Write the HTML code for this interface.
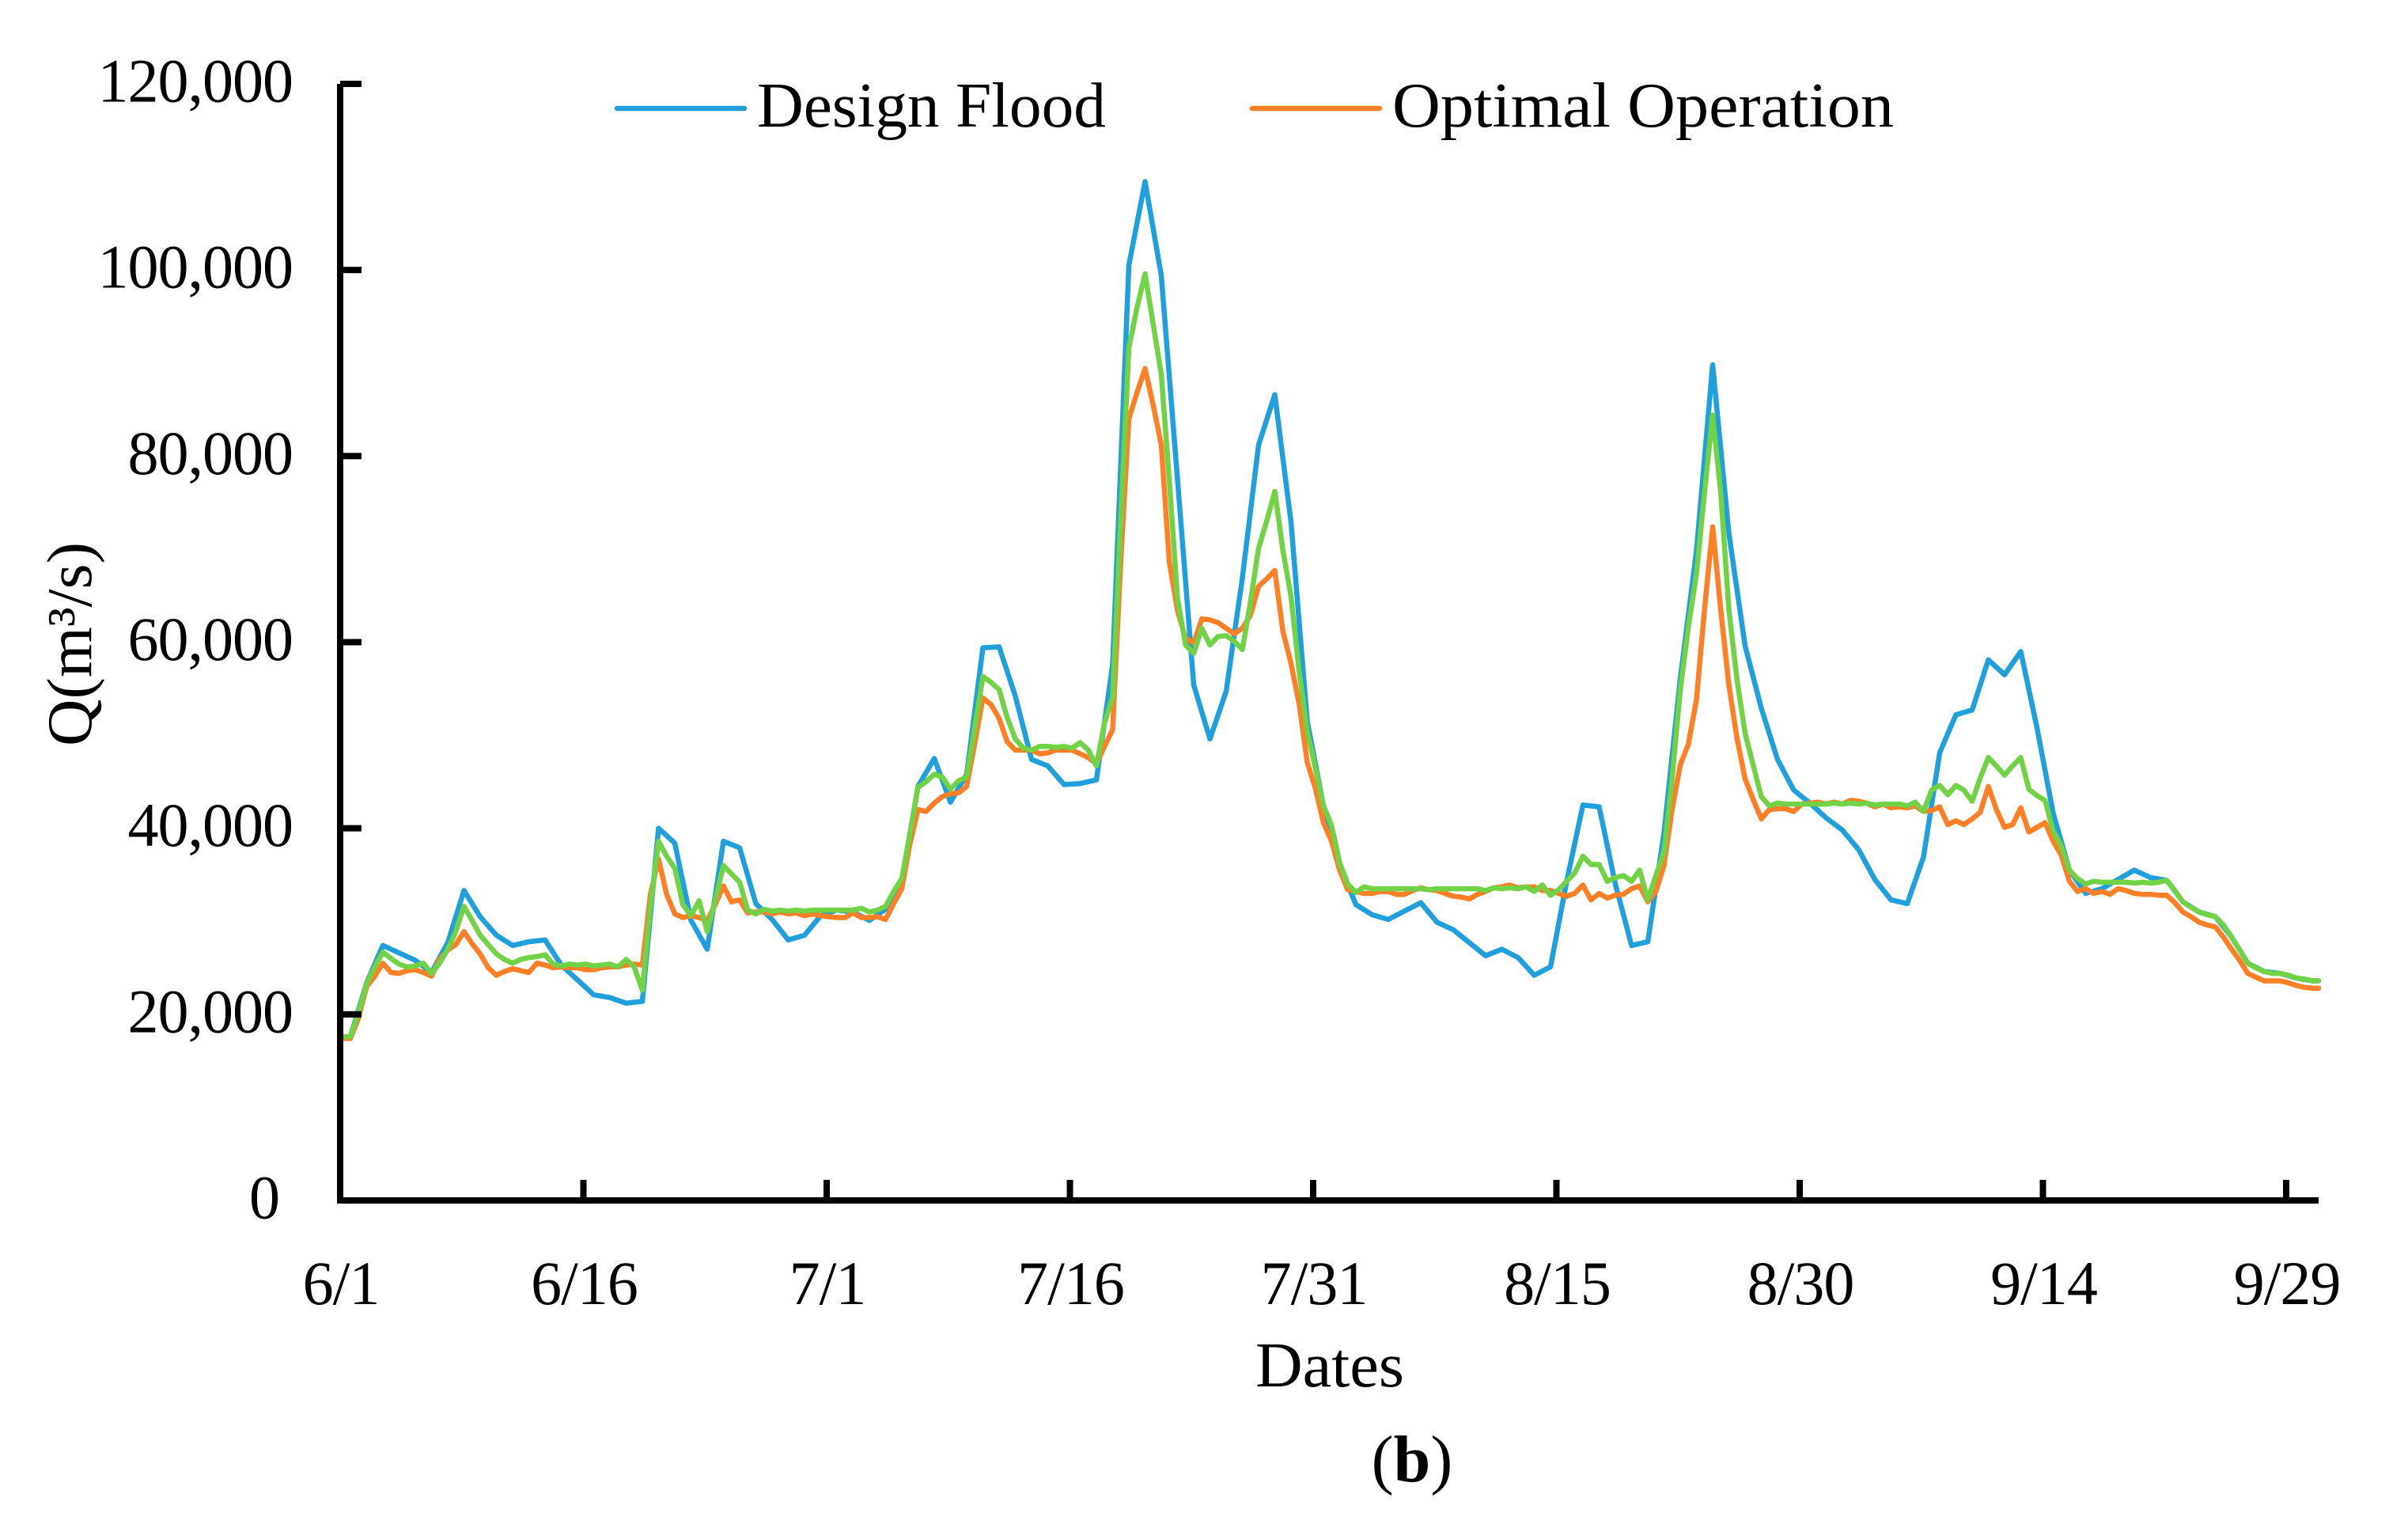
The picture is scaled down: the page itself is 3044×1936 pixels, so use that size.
<!DOCTYPE html>
<html lang="en">
<head>
<meta charset="utf-8">
<title>Flood hydrograph (b)</title>
<style>
html,body{margin:0;padding:0;background:#fff;}
svg{display:block;}
text{font-family:"Liberation Serif",serif;fill:#000;}
.tick{font-size:78px;letter-spacing:-1px;}
.title{font-size:81px;}
</style>
</head>
<body>
<svg id="chart" xmlns="http://www.w3.org/2000/svg" width="3044" height="1936" viewBox="0 0 3044 1936">
  <rect x="0" y="0" width="3044" height="1936" fill="#fff"/>
  <g id="series"></g>
  <g id="axes"></g>
  <g>
    <line x1="780" y1="137" x2="941" y2="137" stroke="#1F9FDC" stroke-width="6.5" stroke-linecap="round"/>
    <text class="title" x="957" y="160" textLength="441" lengthAdjust="spacingAndGlyphs">Design Flood</text>
    <line x1="1583" y1="137" x2="1744" y2="137" stroke="#FF7F27" stroke-width="6.5" stroke-linecap="round"/>
    <text class="title" x="1760" y="160" textLength="634" lengthAdjust="spacingAndGlyphs">Optimal Operation</text>
  </g>
  <text class="title" x="115" y="814" text-anchor="middle" textLength="258" lengthAdjust="spacingAndGlyphs" transform="rotate(-90 115 814)">Q(m³/s)</text>
  <text class="title" x="1587" y="1752" textLength="188" lengthAdjust="spacingAndGlyphs">Dates</text>
  <text x="1785" y="1872" text-anchor="middle" font-size="84">(<tspan font-weight="bold">b</tspan>)</text>
</svg>
<script>
const yTickValues = [0, 20000, 40000, 60000, 80000, 100000, 120000];
const xTickLabels = ["6/1", "6/16", "7/1", "7/16", "7/31", "8/15", "8/30", "9/14", "9/29"];
const xTickDays = [0, 15, 30, 45, 60, 75, 90, 105, 120];

// Discharge in thousands of m³/s, one value per day
const designFlood = [
17.6,23.4,27.4,26.6,25.8,24.5,27.7,33.3,30.5,28.5,
27.4,27.8,28.0,25.3,23.7,22.1,21.8,21.2,21.4,40.0,
38.4,30.1,27.0,38.6,37.9,31.9,30.2,28.0,28.5,30.6,
31.2,31.0,30.1,31.3,34.3,44.5,47.5,42.8,45.8,59.4,
59.5,54.2,47.4,46.7,44.7,44.8,45.2,57.6,100.5,109.5,
99.4,77.5,55.4,49.6,54.7,66.9,81.2,86.6,72.9,51.5,
42.4,36.0,31.8,30.7,30.2,31.1,32.0,29.9,29.1,27.7,
26.3,27.0,26.1,24.2,25.1,34.3,42.5,42.3,34.0,27.4,
27.8,39.5,56.0,69.8,89.8,71.7,59.6,52.9,47.4,44.1,
42.7,41.1,39.8,37.7,34.5,32.3,31.9,36.9,48.1,52.2,
52.7,58.1,56.5,59.0,50.8,41.6,35.5,33.0,33.5,34.5,
35.5,34.7,34.4,32.1,31.0,30.5,28.3,25.5,24.6,24.4,
23.9,23.6];

// Discharge in thousands of m³/s, two values per day
const optimalOperation = [
17.4,19.6,23.0,24.1,25.5,24.5,24.4,24.7,24.8,24.5,
24.1,25.9,26.9,27.5,28.9,27.6,26.5,25.0,24.2,24.6,
24.9,24.7,24.5,25.5,25.3,25.0,25.1,25.0,25.0,24.8,
24.8,25.0,25.1,25.1,25.3,25.4,25.3,32.9,36.7,32.9,
30.8,30.4,30.6,30.4,30.1,31.8,33.8,32.1,32.3,30.9,
31.0,31.0,30.8,31.0,30.8,30.9,30.6,30.8,30.6,30.5,
30.4,30.4,30.9,30.4,30.4,30.5,30.2,31.9,33.5,38.3,
42.0,41.8,42.7,43.4,43.7,43.8,44.5,49.1,54.0,53.3,
51.8,49.3,48.4,48.4,48.4,48.0,48.1,48.4,48.4,48.4,
48.0,47.6,46.9,48.8,50.6,68.6,84.0,86.8,89.4,85.5,
81.2,68.6,63.4,60.4,59.9,62.5,62.4,62.1,61.5,60.9,
61.5,62.9,66.0,66.8,67.7,61.2,57.7,53.4,47.1,44.3,
40.6,38.6,35.5,33.4,33.2,33.0,33.0,33.2,33.2,32.9,
32.9,33.3,33.6,33.4,33.3,33.0,32.7,32.6,32.4,32.9,
33.2,33.6,33.7,33.9,33.6,33.7,33.7,33.3,33.3,33.0,
32.7,33.0,33.9,32.3,33.0,32.5,32.8,32.9,33.5,33.8,
32.1,33.2,36.0,42.0,46.8,49.0,53.8,63.5,72.4,63.5,
55.4,49.7,45.3,43.1,41.0,42.0,42.1,42.1,41.8,42.6,
42.7,42.8,42.6,42.8,42.6,43.0,42.9,42.7,42.3,42.6,
42.2,42.3,42.2,42.4,41.8,41.9,42.3,40.4,40.8,40.4,
41.0,41.7,44.5,42.0,40.1,40.4,42.2,39.6,40.1,40.6,
38.6,37.1,34.3,33.2,33.5,33.0,33.2,32.9,33.5,33.3,
33.0,32.9,32.9,32.8,32.8,32.0,31.0,30.5,29.9,29.6,
29.4,28.3,27.0,25.8,24.4,24.0,23.6,23.6,23.6,23.4,
23.1,22.9,22.8];

// Discharge in thousands of m³/s, two values per day
const thirdScenario = [
17.6,20.2,23.3,25.1,26.7,26.0,25.4,25.1,25.2,25.5,
24.4,25.5,27.0,28.9,31.6,30.1,28.5,27.5,26.5,25.9,
25.5,25.9,26.1,26.2,26.4,25.4,25.2,25.4,25.3,25.4,
25.2,25.3,25.4,25.1,25.9,25.1,22.6,31.5,38.6,37.0,
35.7,31.8,30.6,32.2,28.9,32.3,36.0,35.1,34.2,31.2,
30.8,31.3,31.1,31.2,31.1,31.2,31.1,31.2,31.2,31.2,
31.2,31.2,31.2,31.4,31.0,31.2,31.6,33.2,34.6,39.4,
44.4,45.0,45.8,45.5,44.2,45.1,45.5,50.8,56.3,55.7,
54.9,51.9,49.6,48.6,48.4,48.8,48.8,48.7,48.8,48.6,
49.2,48.4,46.7,51.3,54.1,73.0,91.6,95.9,99.6,94.2,
88.8,77.3,64.7,59.7,58.8,61.5,59.7,60.6,60.7,60.1,
59.2,64.3,70.1,73.0,76.2,69.9,64.9,56.9,50.4,46.5,
42.4,40.3,36.3,34.0,33.1,33.7,33.5,33.5,33.5,33.5,
33.5,33.5,33.5,33.4,33.5,33.5,33.5,33.5,33.5,33.5,
33.3,33.6,33.5,33.6,33.5,33.7,33.2,33.9,32.8,33.4,
34.3,35.2,37.0,36.1,36.1,34.3,34.7,34.9,34.3,35.5,
32.3,34.9,37.5,45.3,54.8,61.6,67.3,76.1,84.4,76.1,
63.5,56.0,50.2,46.8,43.4,42.4,42.7,42.6,42.6,42.6,
42.6,42.6,42.6,42.7,42.6,42.7,42.6,42.7,42.5,42.6,
42.6,42.6,42.4,42.8,41.8,44.1,44.6,43.6,44.6,44.1,
42.9,45.4,47.6,46.7,45.7,46.7,47.6,44.2,43.5,43.0,
39.7,38.1,35.5,34.6,34.0,34.3,34.2,34.2,34.2,34.2,
34.1,34.2,34.1,34.2,34.4,33.3,32.1,31.5,31.0,30.7,
30.5,29.6,28.3,26.9,25.5,25.0,24.6,24.4,24.4,24.2,
23.9,23.8,23.6];

const NS = "http://www.w3.org/2000/svg";
const UNIT = 1000;
const FIRST_SAMPLE_DAY = 0.634;
const LAST_DAY = 122;
function xScale(day) { return 430 + 20.5 * day; }
function yScale(value) { return 1517 - value * (1411 / 120000); }

function linePath(values, samplesPerDay) {
  let d = "M" + xScale(0) + " " + yScale(values[0] * UNIT).toFixed(1);
  values.forEach(function (v, i) {
    const day = FIRST_SAMPLE_DAY + i / samplesPerDay;
    d += "L" + xScale(day).toFixed(1) + " " + yScale(v * UNIT).toFixed(1);
  });
  d += "L" + xScale(LAST_DAY) + " " + yScale(values[values.length - 1] * UNIT).toFixed(1);
  return d;
}

const seriesGroup = document.getElementById("series");
function addSeries(values, samplesPerDay, color) {
  const p = document.createElementNS(NS, "path");
  p.setAttribute("d", linePath(values, samplesPerDay));
  p.setAttribute("fill", "none");
  p.setAttribute("stroke", color);
  p.setAttribute("stroke-width", "6.5");
  p.setAttribute("stroke-linejoin", "round");
  p.setAttribute("stroke-linecap", "round");
  seriesGroup.appendChild(p);
  return p;
}
const designLine = addSeries(designFlood, 1, "#1F9FDC");


const optimalLine = addSeries(optimalOperation, 2, "#FF7F27");


const thirdLine = addSeries(thirdScenario, 2, "#70D244");



const axes = document.getElementById("axes");
function rect(x, y, w, h) {
  const r = document.createElementNS(NS, "rect");
  r.setAttribute("x", x);
  r.setAttribute("y", y);
  r.setAttribute("width", w);
  r.setAttribute("height", h);
  r.setAttribute("fill", "#000");
  axes.appendChild(r);
  return r;
}
const yAxisLine = rect(426, yScale(120000), 8, yScale(0) - yScale(120000));


const xAxisLine = rect(426, yScale(0) - 4, xScale(LAST_DAY) - 426, 8);



yTickValues.forEach(function (v) {
  const y = yScale(v);
  const t = rect(430, y - 4, 27, 8);
  
  
  const label = document.createElementNS(NS, "text");
  label.setAttribute("class", "tick");
  label.setAttribute("x", v === 0 ? 353 : 370);
  label.setAttribute("y", y + 22.5);
  label.setAttribute("text-anchor", "end");
  label.textContent = v.toLocaleString("en-US");
  
  
  axes.appendChild(label);
});

xTickLabels.forEach(function (text, i) {
  const x = xScale(xTickDays[i]);
  if (xTickDays[i] > 0) {
    const t = rect(x - 4, 1491, 8, 26);
    
    
  }
  const label = document.createElementNS(NS, "text");
  label.setAttribute("class", "tick");
  label.setAttribute("x", x + 1);
  label.setAttribute("y", 1648);
  label.setAttribute("text-anchor", "middle");
  label.textContent = text;
  
  
  axes.appendChild(label);
});
</script>
</body>
</html>
